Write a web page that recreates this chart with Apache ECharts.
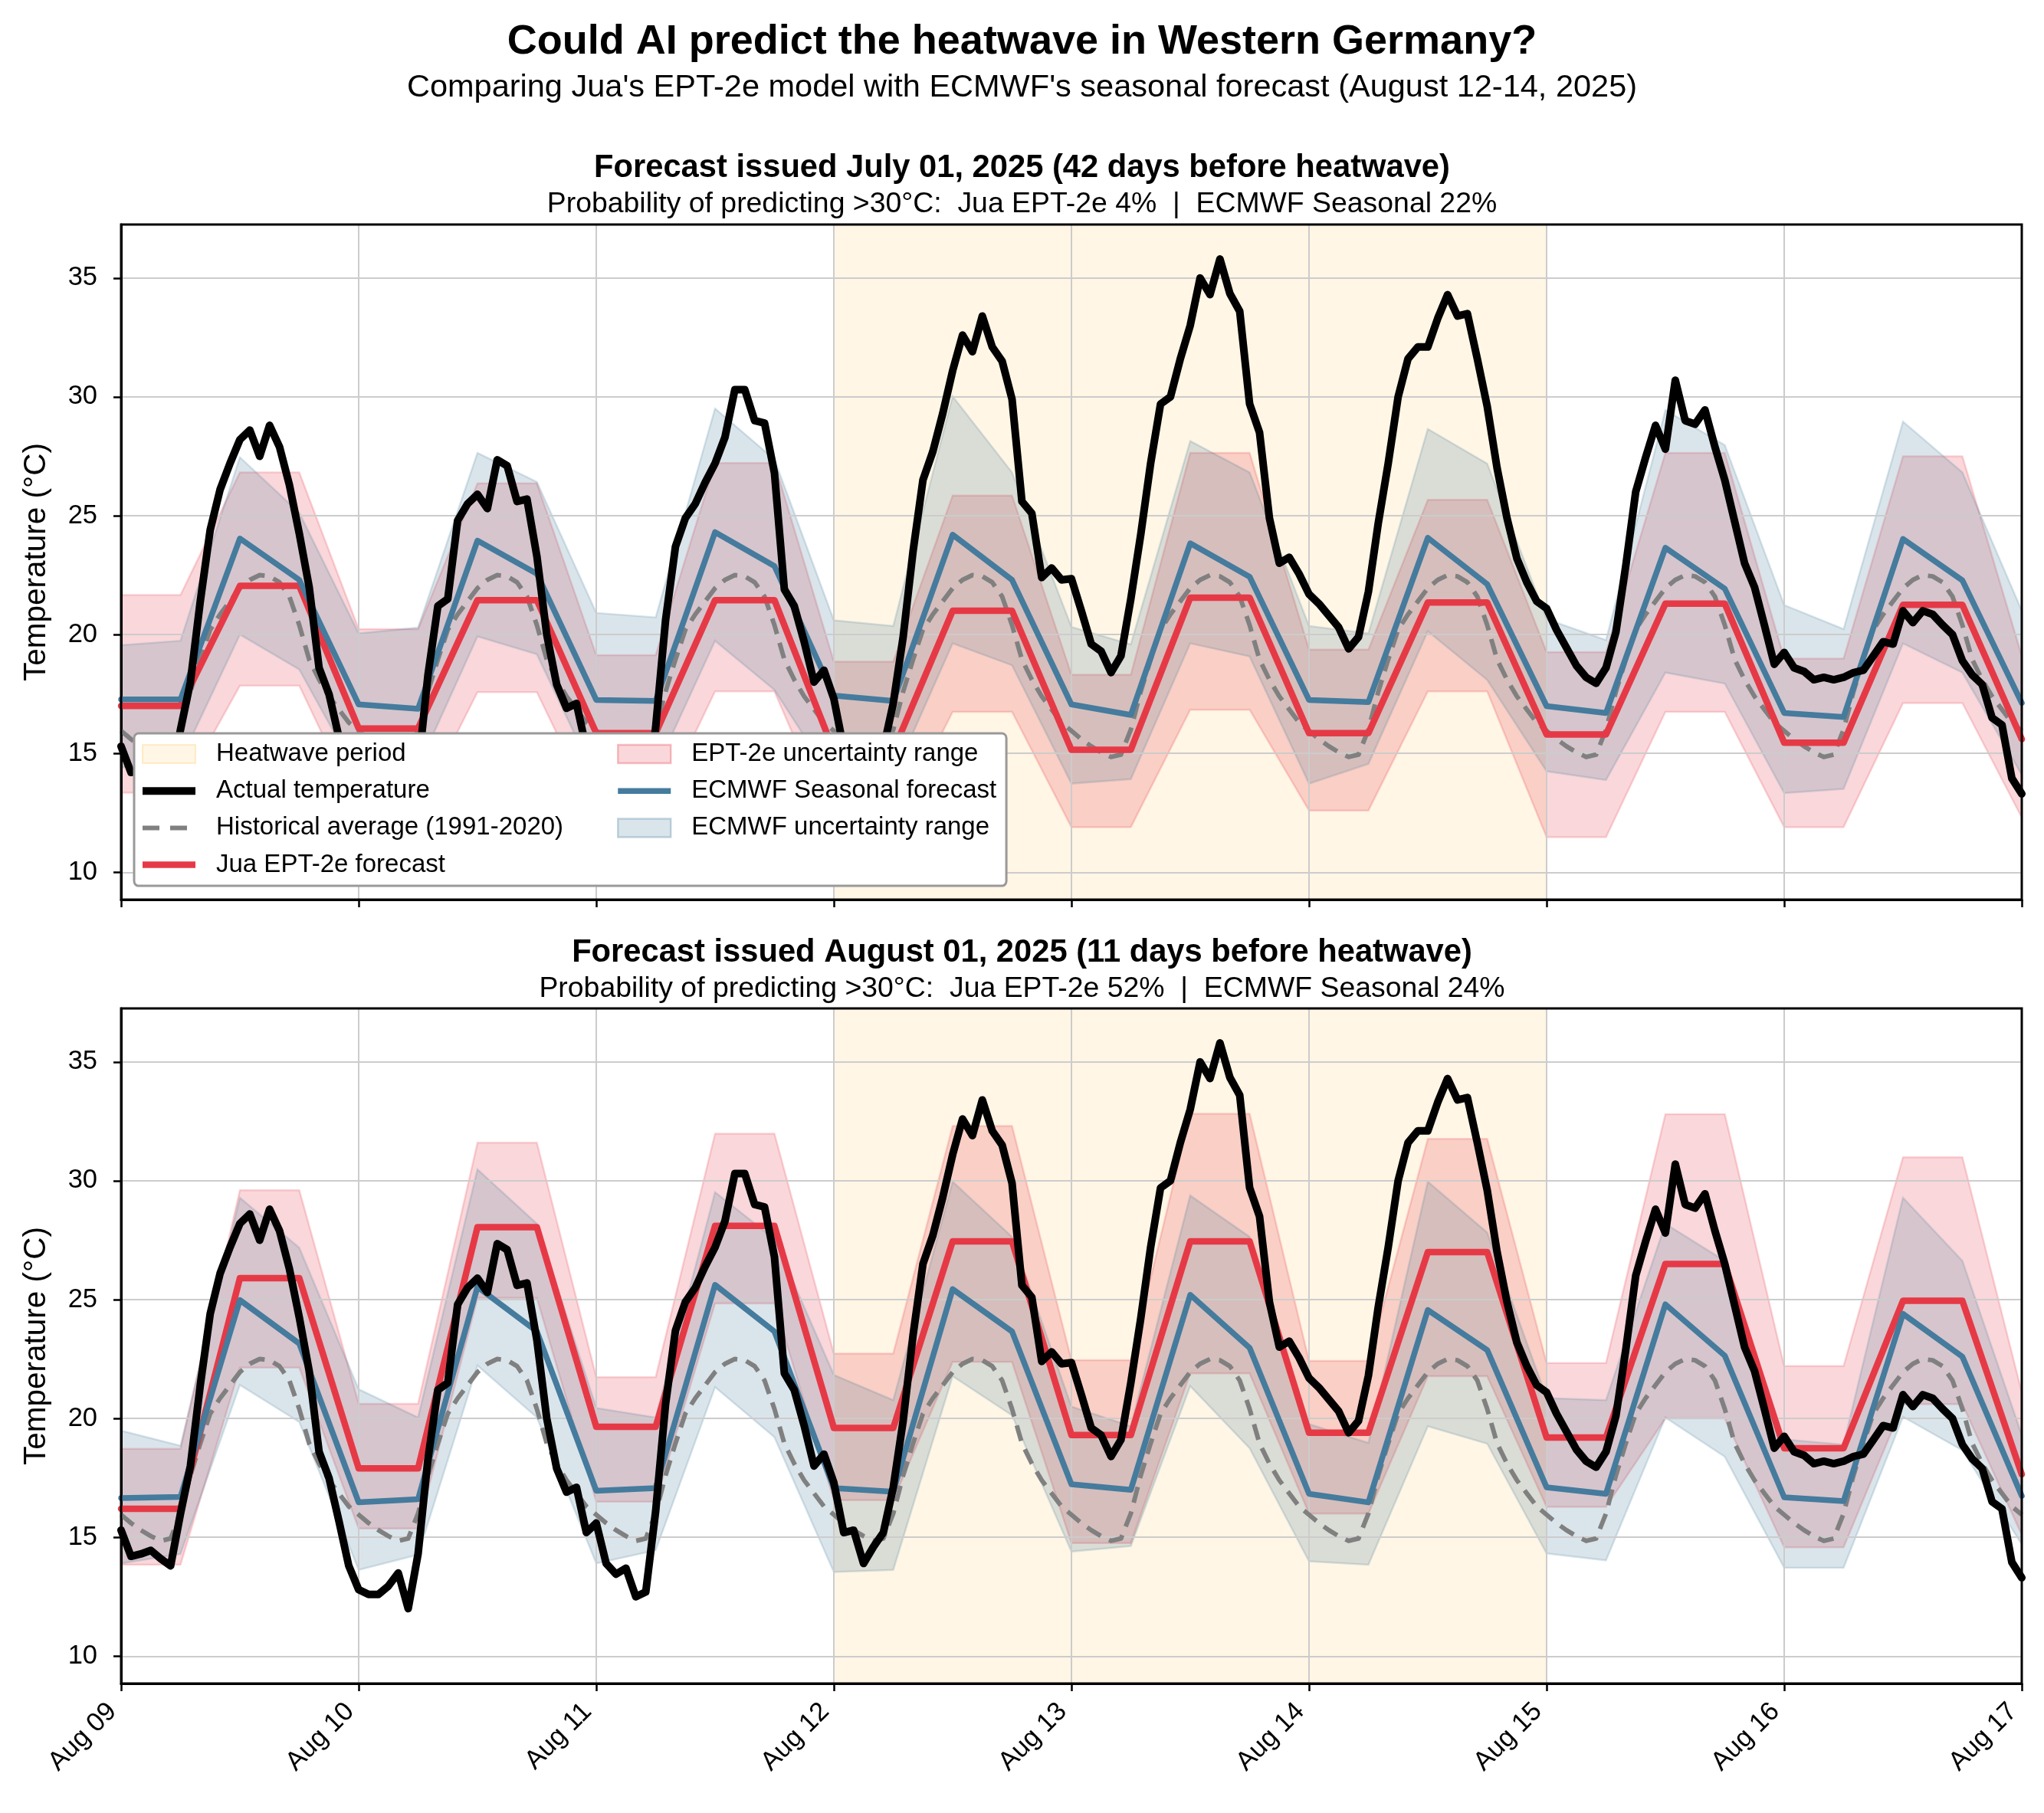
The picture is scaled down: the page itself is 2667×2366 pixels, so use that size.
<!DOCTYPE html>
<html>
<head>
<meta charset="utf-8">
<title>Heatwave forecast comparison</title>
<script src="https://cdn.jsdelivr.net/npm/echarts@6/dist/echarts.min.js"></script>
<style>
  html, body { margin: 0; padding: 0; background: #fff; }
  #chart { width: 2667px; height: 2366px; }
</style>
</head>
<body>
<div id="chart"></div>
<script>
// x axis is hours since Aug 09 00:00
const dayLabels = ['Aug 09', 'Aug 10', 'Aug 11', 'Aug 12', 'Aug 13', 'Aug 14', 'Aug 15', 'Aug 16', 'Aug 17'];
const yTicks = [10, 15, 20, 25, 30, 35];
const heatwaveHours = [72, 144]; // Aug 12 -> Aug 15

// observed, hourly
const actualTemp = [
  15.3, 14.2, 14.3, 14.45, 14.1, 13.8, 16.0, 18.0, 21.4, 24.4, 26.1, 27.2, 28.2, 28.6, 27.5, 28.8, 27.9, 26.3, 24.25, 22.0, 18.6, 17.5, 15.7, 13.8,
  12.8, 12.6, 12.6, 12.95, 13.5, 12.0, 14.3, 18.3, 21.2, 21.5, 24.8, 25.5, 25.9, 25.3, 27.35, 27.1, 25.6, 25.7, 23.3, 20.0, 17.9, 16.9, 17.1, 15.2,
  15.6, 13.9, 13.45, 13.7, 12.5, 12.7, 16.1, 20.6, 23.7, 24.9, 25.5, 26.4, 27.2, 28.3, 30.3, 30.3, 29.0, 28.9, 26.8, 21.9, 21.2, 19.7, 18.0, 18.5,
  17.3, 15.2, 15.3, 13.9, 14.6, 15.2, 17.1, 19.9, 23.5, 26.5, 27.7, 29.3, 31.1, 32.6, 31.9, 33.4, 32.1, 31.5, 29.9, 25.6, 25.1, 22.4, 22.8, 22.3,
  22.35, 21.0, 19.6, 19.3, 18.4, 19.1, 21.5, 24.2, 27.2, 29.7, 30.0, 31.6, 33.0, 35.0, 34.3, 35.8, 34.35, 33.6, 29.7, 28.5, 24.9, 23.0, 23.25, 22.55,
  21.7, 21.3, 20.8, 20.3, 19.4, 19.9, 21.8, 24.7, 27.2, 30.0, 31.6, 32.1, 32.1, 33.3, 34.3, 33.4, 33.5, 31.6, 29.6, 27.0, 24.9, 23.2, 22.2, 21.4,
  21.1, 20.2, 19.45, 18.7, 18.2, 17.95, 18.6, 20.1, 22.9, 26.0, 27.45, 28.8, 27.8, 30.7, 29.0, 28.85, 29.45, 27.9, 26.5, 24.75, 23.0, 22.0, 20.4, 18.75,
  19.25, 18.6, 18.45, 18.1, 18.2, 18.1, 18.2, 18.4, 18.5, 19.1, 19.7, 19.6, 21.0, 20.5, 21.0, 20.85, 20.4, 20.0, 18.9, 18.3, 17.9, 16.5, 16.2, 13.95,
  13.3
];

// 1991-2020 climatology, hourly (same daily cycle each day)
const histAvg = [
  15.95, 15.6, 15.3, 15.05, 14.85, 14.95, 16.0, 17.6, 18.95, 20.2, 20.85, 21.4, 21.95, 22.3, 22.5, 22.45, 22.2, 21.6, 20.4, 18.95, 18.1, 17.4, 16.85, 16.3,
  15.95, 15.6, 15.3, 15.05, 14.85, 14.95, 16.0, 17.6, 18.95, 20.2, 20.85, 21.4, 21.95, 22.3, 22.5, 22.45, 22.2, 21.6, 20.4, 18.95, 18.1, 17.4, 16.85, 16.3,
  15.95, 15.6, 15.3, 15.05, 14.85, 14.95, 16.0, 17.6, 18.95, 20.2, 20.85, 21.4, 21.95, 22.3, 22.5, 22.45, 22.2, 21.6, 20.4, 18.95, 18.1, 17.4, 16.85, 16.3,
  15.95, 15.6, 15.3, 15.05, 14.85, 14.95, 16.0, 17.6, 18.95, 20.2, 20.85, 21.4, 21.95, 22.3, 22.5, 22.45, 22.2, 21.6, 20.4, 18.95, 18.1, 17.4, 16.85, 16.3,
  15.95, 15.6, 15.3, 15.05, 14.85, 14.95, 16.0, 17.6, 18.95, 20.2, 20.85, 21.4, 21.95, 22.3, 22.5, 22.45, 22.2, 21.6, 20.4, 18.95, 18.1, 17.4, 16.85, 16.3,
  15.95, 15.6, 15.3, 15.05, 14.85, 14.95, 16.0, 17.6, 18.95, 20.2, 20.85, 21.4, 21.95, 22.3, 22.5, 22.45, 22.2, 21.6, 20.4, 18.95, 18.1, 17.4, 16.85, 16.3,
  15.95, 15.6, 15.3, 15.05, 14.85, 14.95, 16.0, 17.6, 18.95, 20.2, 20.85, 21.4, 21.95, 22.3, 22.5, 22.45, 22.2, 21.6, 20.4, 18.95, 18.1, 17.4, 16.85, 16.3,
  15.95, 15.6, 15.3, 15.05, 14.85, 14.95, 16.0, 17.6, 18.95, 20.2, 20.85, 21.4, 21.95, 22.3, 22.5, 22.45, 22.2, 21.6, 20.4, 18.95, 18.1, 17.4, 16.85, 16.3,
  15.95
];

// forecasts, 6-hourly (00, 06, 12, 18 each day)
// issued July 01
const juaJul   = [17.0, 17.0, 22.05, 22.05, 16.05, 16.05, 21.45, 21.45, 15.85, 15.85, 21.45, 21.45, 15.1, 15.1, 21.0, 21.0,
                  15.15, 15.15, 21.55, 21.55, 15.85, 15.85, 21.35, 21.35, 15.8, 15.8, 21.3, 21.3, 15.45, 15.45, 21.25, 21.25, 15.6];
const juaJulHi = [21.66, 21.66, 26.82, 26.82, 20.23, 20.23, 26.36, 26.36, 19.13, 19.13, 27.22, 27.22, 18.86, 18.86, 25.85, 25.85,
                  18.31, 18.31, 27.64, 27.64, 19.37, 19.37, 25.67, 25.67, 19.26, 19.26, 27.64, 27.64, 18.99, 18.99, 27.5, 27.5, 19.1];
const juaJulLo = [13.35, 13.35, 17.85, 17.85, 12.6, 12.6, 17.58, 17.58, 12.4, 12.4, 17.61, 17.61, 11.8, 11.8, 16.75, 16.75,
                  11.9, 11.9, 16.84, 16.84, 12.6, 12.6, 17.61, 17.61, 11.48, 11.48, 16.75, 16.75, 11.9, 11.9, 17.12, 17.12, 12.3];
const ecmJul   = [17.27, 17.27, 24.04, 22.3, 17.06, 16.88, 23.95, 22.56, 17.25, 17.21, 24.31, 22.88, 17.43, 17.21, 24.2, 22.3,
                  17.06, 16.62, 23.84, 22.43, 17.25, 17.16, 24.07, 22.12, 16.99, 16.7, 23.65, 21.93, 16.7, 16.53, 24.02, 22.28, 17.12];
const ecmJulHi = [19.55, 19.74, 27.46, 25.12, 20.05, 20.29, 27.64, 26.42, 20.91, 20.72, 29.51, 27.37, 20.6, 20.36, 30.02, 26.82,
                  20.32, 19.59, 28.14, 26.82, 20.36, 20.05, 28.65, 27.19, 20.65, 19.77, 29.44, 27.97, 21.24, 20.23, 28.96, 26.82, 21.0];
const ecmJulLo = [14.4, 14.7, 20.0, 18.53, 14.0, 14.4, 19.92, 19.17, 13.9, 14.3, 19.74, 17.67, 13.8, 14.0, 19.63, 18.71,
                  13.73, 13.92, 19.63, 19.08, 13.73, 14.56, 20.14, 18.09, 14.25, 13.88, 18.4, 17.94, 13.33, 13.51, 19.63, 18.4, 14.1];

// issued August 01
const juaAug   = [16.2, 16.2, 25.9, 25.9, 17.9, 17.9, 28.05, 28.05, 19.65, 19.65, 28.1, 28.1, 19.6, 19.6, 27.45, 27.45,
                  19.3, 19.3, 27.45, 27.45, 19.4, 19.4, 27.0, 27.0, 19.2, 19.2, 26.5, 26.5, 18.75, 18.75, 24.95, 24.95, 17.65];
const juaAugHi = [18.72, 18.72, 29.6, 29.6, 20.62, 20.62, 31.6, 31.6, 21.74, 21.74, 31.98, 31.98, 22.73, 22.73, 32.3, 32.3,
                  22.45, 22.45, 32.82, 32.82, 22.42, 22.42, 31.76, 31.76, 22.33, 22.33, 32.8, 32.8, 22.2, 22.2, 30.99, 30.99, 21.1];
const juaAugLo = [13.85, 13.85, 22.14, 22.14, 15.37, 15.37, 25.07, 25.07, 16.5, 16.5, 24.84, 24.84, 16.56, 16.56, 22.38, 22.38,
                  14.76, 14.76, 21.9, 21.9, 16.0, 16.0, 21.78, 21.78, 16.28, 16.28, 20.0, 20.0, 14.58, 14.58, 20.6, 20.6, 15.1];
const ecmAug   = [16.65, 16.7, 24.98, 23.15, 16.47, 16.6, 25.53, 23.66, 16.96, 17.07, 25.62, 23.66, 17.07, 16.92, 25.44, 23.66,
                  17.23, 17.0, 25.2, 22.97, 16.83, 16.47, 24.56, 22.88, 17.1, 16.83, 24.8, 22.64, 16.68, 16.52, 24.4, 22.6, 16.74];
const ecmAugHi = [19.49, 18.85, 29.29, 27.18, 21.23, 20.04, 30.48, 28.19, 20.44, 20.04, 29.52, 27.55, 21.83, 20.77, 29.96, 27.64,
                  20.5, 19.67, 29.38, 27.64, 19.76, 18.97, 29.96, 27.82, 20.86, 20.77, 28.19, 26.63, 19.12, 18.9, 29.29, 26.63, 19.3];
const ecmAugLo = [13.9, 14.3, 21.41, 19.85, 13.63, 14.27, 22.23, 20.04, 13.9, 14.45, 21.32, 19.21, 13.54, 13.63, 21.78, 20.13,
                  14.4, 14.63, 21.36, 18.75, 13.99, 13.85, 19.67, 18.94, 14.32, 14.03, 20.04, 18.39, 13.72, 13.72, 20.07, 18.66, 14.7];

const mainTitle = 'Could AI predict the heatwave in Western Germany?';
const mainSubtitle = "Comparing Jua's EPT-2e model with ECMWF's seasonal forecast (August 12-14, 2025)";
const panelTitles = [
  'Forecast issued July 01, 2025 (42 days before heatwave)',
  'Forecast issued August 01, 2025 (11 days before heatwave)'
];
const panelSubtitles = [
  'Probability of predicting >30°C:  Jua EPT-2e 4%  |  ECMWF Seasonal 22%',
  'Probability of predicting >30°C:  Jua EPT-2e 52%  |  ECMWF Seasonal 24%'
];

const panels = [
  { jua: juaJul, juaHi: juaJulHi, juaLo: juaJulLo, ecm: ecmJul, ecmHi: ecmJulHi, ecmLo: ecmJulLo },
  { jua: juaAug, juaHi: juaAugHi, juaLo: juaAugLo, ecm: ecmAug, ecmHi: ecmAugHi, ecmLo: ecmAugLo }
];

const RED = '#E63946', BLUE = '#457B9D', GREY = '#808080';
const RED_BAND = 'rgba(230,57,70,0.2)', BLUE_BAND = 'rgba(69,123,157,0.2)';
const HEAT = 'rgba(255,165,0,0.1)';
const FONT = 'Liberation Sans';
const Y_MIN = 8.85, Y_MAX = 37.25;
const gridTops = [293, 1316];

const hourly = v => v.map((y, i) => [i, y]);
const sixHourly = v => v.map((y, i) => [i * 6, y]);

function band(name, lo, hi, color, idx) {
  const pts = lo.map((v, i) => [i * 6, v, hi[i]]);
  return {
    type: 'custom', name, xAxisIndex: idx, yAxisIndex: idx, z: 1, silent: true,
    data: pts,
    encode: { x: 0, y: [1, 2] },
    renderItem(params, api) {
      if (params.dataIndex !== 0) return null;
      const upper = pts.map(p => api.coord([p[0], p[2]]));
      const lower = pts.map(p => api.coord([p[0], p[1]])).reverse();
      return {
        type: 'polygon',
        shape: { points: upper.concat(lower) },
        style: { fill: color, stroke: color, lineWidth: 2.5 }
      };
    }
  };
}

function line(name, data, color, width, type, idx, z) {
  return {
    type: 'line', name, data, xAxisIndex: idx, yAxisIndex: idx, z,
    showSymbol: false, symbol: 'none', silent: true,
    lineStyle: { color, width, type, join: 'round', cap: type === 'solid' ? 'round' : 'butt' },
    itemStyle: { color }
  };
}

function heatwave(idx) {
  return {
    type: 'custom', name: 'Heatwave period', xAxisIndex: idx, yAxisIndex: idx, z: 0, silent: true,
    data: [heatwaveHours],
    renderItem(params, api) {
      const cs = params.coordSys;
      const x0 = api.coord([api.value(0), Y_MIN])[0];
      const x1 = api.coord([api.value(1), Y_MIN])[0];
      return { type: 'rect', shape: { x: x0, y: cs.y, width: x1 - x0, height: cs.height }, style: { fill: HEAT } };
    }
  };
}

const series = [];
panels.forEach((p, i) => {
  series.push(
    heatwave(i),
    band('EPT-2e uncertainty range', p.juaLo, p.juaHi, RED_BAND, i),
    band('ECMWF uncertainty range', p.ecmLo, p.ecmHi, BLUE_BAND, i),
    line('Historical average (1991-2020)', hourly(histAvg), GREY, 6, [21, 12], i, 3),
    line('Jua EPT-2e forecast', sixHourly(p.jua), RED, 8.5, 'solid', i, 3),
    line('ECMWF Seasonal forecast', sixHourly(p.ecm), BLUE, 7.5, 'solid', i, 3),
    line('Actual temperature', hourly(actualTemp), '#000', 10, 'solid', i, 4)
  );
});

const grids = gridTops.map(top => ({
  left: 158, top, width: 2480, height: 881,
  show: true, borderColor: '#000', borderWidth: 3, backgroundColor: 'transparent', z: 10
}));

const xAxes = gridTops.map((t, i) => ({
  type: 'value', gridIndex: i, min: 0, max: 192, interval: 24, z: 2,
  axisLine: { show: true, onZero: false, lineStyle: { color: '#000', width: 3 } },
  axisTick: { show: true, length: 10, lineStyle: { color: '#000', width: 2.5 } },
  axisLabel: {
    show: i === 1, rotate: 45, margin: 20, padding: [0, 16, 0, 0],
    fontSize: 34.5, color: '#000', fontFamily: FONT,
    formatter: v => dayLabels[v / 24]
  },
  splitLine: { show: true, lineStyle: { color: '#cccccc', width: 2 } }
}));

const yAxes = gridTops.map((t, i) => ({
  type: 'value', gridIndex: i, min: Y_MIN, max: Y_MAX, z: 2,
  name: 'Temperature (°C)', nameLocation: 'middle', nameGap: 90,
  nameTextStyle: { fontSize: 40.5, color: '#000', fontFamily: FONT },
  axisLine: { show: true, lineStyle: { color: '#000', width: 3 } },
  axisTick: { show: true, length: 10, customValues: yTicks, lineStyle: { color: '#000', width: 2.5 } },
  axisLabel: { customValues: yTicks, margin: 31, fontSize: 34.5, color: '#000', fontFamily: FONT },
  splitLine: { show: true, lineStyle: { color: '#cccccc', width: 2 } }
}));

// titles: one component per line so each sits exactly; panel titles centred on the plot area
const titleLine = (text, top, size, bold, shift) => ({
  text, left: 'center', top, padding: [0, 0, 0, shift],
  textStyle: { fontSize: size, fontWeight: bold ? 'bold' : 'normal', color: '#000', fontFamily: FONT }
});

const legendText = { fontSize: 33, color: '#000', fontFamily: FONT, padding: [0, 0, 0, 22] };
const legendBase = {
  orient: 'vertical', itemWidth: 69, itemHeight: 24, itemGap: 15.2,
  selectedMode: false, zlevel: 1, textStyle: legendText
};

const option = {
  animation: false,
  backgroundColor: '#fff',
  textStyle: { fontFamily: FONT, color: '#000' },
  title: [
    titleLine(mainTitle, 28, 54, true, 0),
    titleLine(mainSubtitle, 94, 41.5, false, 0),
    titleLine(panelTitles[0], 199, 41.7, true, 130),
    titleLine(panelSubtitles[0], 248, 37.4, false, 130),
    titleLine(panelTitles[1], 1223, 41.7, true, 130),
    titleLine(panelSubtitles[1], 1272, 37.4, false, 130)
  ],
  legend: [
    // first column; its padded background forms the frame for both columns
    Object.assign({}, legendBase, {
      left: 175, top: 957, z: 20,
      padding: [10.5, 578, 11, 10],
      backgroundColor: '#ffffff',
      borderColor: '#999', borderWidth: 3, borderRadius: 6,
      data: [
        { name: 'Heatwave period', icon: 'rect', itemStyle: { color: HEAT, borderColor: 'rgba(255,165,0,0.18)', borderWidth: 2 } },
        { name: 'Actual temperature', icon: 'path://M0,0H69V10H0Z', itemStyle: { color: '#000', borderWidth: 0 } },
        { name: 'Historical average (1991-2020)', icon: 'path://M0,0H22V6H0Z M36,0H58V6H36Z M69,0L69,6', itemStyle: { color: GREY, borderWidth: 0 } },
        { name: 'Jua EPT-2e forecast', icon: 'path://M0,0H69V8.5H0Z', itemStyle: { color: RED, borderWidth: 0 } }
      ]
    }),
    Object.assign({}, legendBase, {
      left: 805, top: 967.5, z: 21, padding: 0,
      data: [
        { name: 'EPT-2e uncertainty range', icon: 'rect', itemStyle: { color: RED_BAND, borderColor: 'rgba(230,57,70,0.3)', borderWidth: 2.5 } },
        { name: 'ECMWF Seasonal forecast', icon: 'path://M0,0H69V7.5H0Z', itemStyle: { color: BLUE, borderWidth: 0 } },
        { name: 'ECMWF uncertainty range', icon: 'rect', itemStyle: { color: BLUE_BAND, borderColor: 'rgba(69,123,157,0.3)', borderWidth: 2.5 } }
      ]
    })
  ],
  grid: grids,
  xAxis: xAxes,
  yAxis: yAxes,
  series
};

const chart = echarts.init(document.getElementById('chart'), null, { renderer: 'canvas' });
chart.setOption(option);
</script>
</body>
</html>
